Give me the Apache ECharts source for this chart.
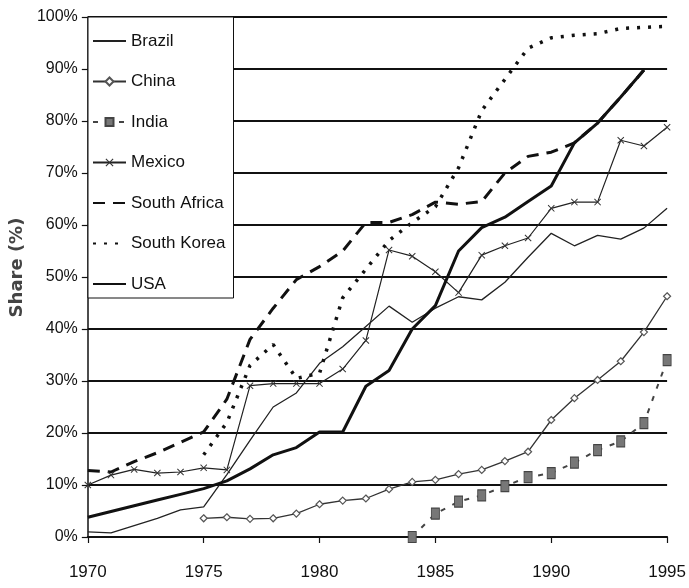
<!DOCTYPE html>
<html>
<head>
<meta charset="utf-8">
<script src="https://cdn.jsdelivr.net/npm/echarts@6/dist/echarts.min.js"></script>
<style>
  html, body { margin: 0; padding: 0; background: #fff; }
  #chart { width: 689px; height: 588px; }
</style>
</head>
<body>
<div id="chart"></div>
<script>
// years on the x axis
var years = [1970, 1971, 1972, 1973, 1974, 1975, 1976, 1977, 1978, 1979, 1980, 1981, 1982,
  1983, 1984, 1985, 1986, 1987, 1988, 1989, 1990, 1991, 1992, 1993, 1994, 1995];

// share (%) per year, null = no data
var brazil = [1, 0.8, 2.2, 3.6, 5.2, 5.8, 12, 18.6, 25, 27.7, 33.4, 36.6, 40.5,
  44.4, 41.3, 44, 46.2, 45.6, 49, 53.8, 58.4, 56, 58, 57.3, 59.4, 63.2];
var china = [null, null, null, null, null, 3.6, 3.8, 3.5, 3.6, 4.5, 6.3, 7, 7.4,
  9.2, 10.6, 11, 12.1, 12.9, 14.6, 16.4, 22.5, 26.7, 30.2, 33.8, 39.4, 46.3];
var india = [null, null, null, null, null, null, null, null, null, null, null, null, null,
  null, 0, 4.5, 6.8, 8, 9.8, 11.5, 12.3, 14.3, 16.7, 18.4, 21.9, 34];
var mexico = [10, 11.9, 13, 12.3, 12.5, 13.3, 12.9, 29.1, 29.5, 29.5, 29.5, 32.3, 37.8,
  55.2, 54, 51, 47, 54.2, 56, 57.5, 63.2, 64.4, 64.4, 76.3, 75.2, 78.8];
var southAfrica = [12.8, 12.5, 14.5, 16.2, 18.2, 20.2, 26.5, 38, 44, 49.5, 52, 55, 60.5,
  60.5, 62, 64.4, 64, 64.5, 70, 73.2, 74, 75.8, 79.6, 84.6, 89.8, null];
var southKorea = [null, null, null, null, null, 15.8, 22, 33, 37, 30.5, 31.5, 46, 51.5,
  57, 60.5, 63.5, 71, 82, 88, 94, 96, 96.5, 96.8, 97.8, 98, 98.2];
var usa = [3.8, 4.9, 6, 7.1, 8.2, 9.3, 10.8, 13.1, 15.8, 17.2, 20.2, 20.2, 29,
  32, 40, 44.5, 55, 59.5, 61.5, 64.5, 67.5, 75.8, 79.6, 84.6, 89.8, null];

var yTicks = [0, 10, 20, 30, 40, 50, 60, 70, 80, 90, 100];

var font = "'Liberation Sans', Arial, sans-serif";

function pairs(vals) {
  return years.map(function (y, i) { return [y, vals[i]]; });
}

var crossMark = 'path://M0,1L1,0L5,4L9,0L10,1L6,5L10,9L9,10L5,6L1,10L0,9L4,5Z';
// invisible marker so the legend shows only the line
var noMark = { color: 'rgba(0,0,0,0)', borderWidth: 0 };

var chart = echarts.init(document.getElementById('chart'), null, { renderer: 'canvas' });

var option = {
  animation: false,
  backgroundColor: '#fff',
  grid: { left: 82, right: 17, top: 17, bottom: 51 },
  legend: {
    orient: 'vertical',
    left: 88,
    top: 17,
    padding: [15.5, 8, 5.5, 4],
    itemGap: 23.5,
    itemWidth: 33,
    itemHeight: 10,
    backgroundColor: '#fff',
    borderColor: '#111',
    borderWidth: 1,
    textStyle: { fontFamily: font, fontSize: 17, lineHeight: 17, color: '#111' },
    data: ['Brazil', 'China', 'India', 'Mexico', 'South Africa', 'South Korea', 'USA']
  },
  xAxis: {
    type: 'value',
    min: 1970,
    max: 1995,
    interval: 5,
    axisLine: { lineStyle: { color: '#111', width: 2 } },
    axisTick: { show: true, length: 6, lineStyle: { color: '#111', width: 1.2 } },
    axisLabel: {
      margin: 27, fontFamily: font, fontSize: 17, color: '#111',
      formatter: function (v) { return String(v); }
    },
    splitLine: { show: false }
  },
  yAxis: {
    type: 'value',
    min: 0,
    max: 100,
    interval: 10,
    name: 'Share (%)',
    nameLocation: 'middle',
    nameGap: 57,
    nameTextStyle: {
      fontFamily: "'DejaVu Sans', sans-serif", fontWeight: 'bold', fontSize: 18,
      color: '#444', padding: [0, 0, 0, 19]
    },
    axisLine: { show: true, lineStyle: { color: '#111', width: 1.5 } },
    axisTick: { show: true, length: 6, lineStyle: { color: '#111', width: 1.2 } },
    axisLabel: {
      margin: 10,
      fontFamily: font,
      fontSize: 16,
      color: '#111',
      formatter: function (v) { return yTicks.indexOf(v) >= 0 ? v + '%' : ''; }
    },
    splitLine: { show: true, lineStyle: { color: '#111', width: 2 } }
  },
  series: [
    {
      name: 'Brazil', type: 'line', data: pairs(brazil),
      symbol: 'circle', showSymbol: false,
      lineStyle: { color: '#222', width: 1.3 }, itemStyle: noMark
    },
    {
      name: 'China', type: 'line', data: pairs(china),
      symbol: 'diamond', symbolSize: 7,
      lineStyle: { color: '#333', width: 1.3 },
      itemStyle: { color: '#fff', borderColor: '#555', borderWidth: 1.2 }
    },
    {
      name: 'India', type: 'line', data: pairs(india),
      symbol: 'rect', symbolSize: [8, 11],
      lineStyle: { color: '#444', width: 2, type: [5, 8] },
      itemStyle: { color: '#777', borderColor: '#444', borderWidth: 1 }
    },
    {
      name: 'Mexico', type: 'line', data: pairs(mexico),
      symbol: crossMark, symbolSize: 7,
      lineStyle: { color: '#222', width: 1.2 },
      itemStyle: { color: '#333' }
    },
    {
      name: 'South Africa', type: 'line', data: pairs(southAfrica),
      symbol: 'circle', showSymbol: false,
      lineStyle: { color: '#111', width: 3, type: [12, 8] }, itemStyle: noMark
    },
    {
      name: 'South Korea', type: 'line', data: pairs(southKorea),
      symbol: 'circle', showSymbol: false,
      lineStyle: { color: '#111', width: 3.5, type: [3, 8] }, itemStyle: noMark
    },
    {
      name: 'USA', type: 'line', data: pairs(usa),
      symbol: 'circle', showSymbol: false,
      lineStyle: { color: '#111', width: 3 }, itemStyle: noMark
    }
  ]
};

chart.setOption(option);
</script>
</body>
</html>
